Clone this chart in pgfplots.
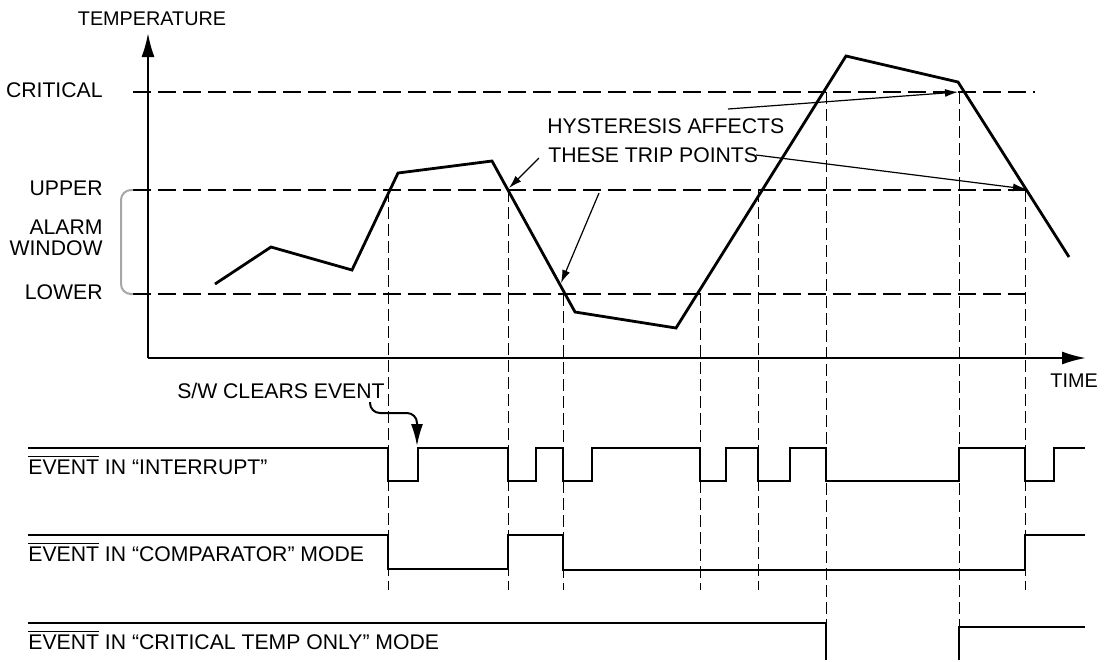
\documentclass[border=0pt]{standalone}
\usepackage{pgfplots}
\pgfplotsset{compat=1.18}
\usepackage{fontspec}
\setmainfont{Liberation Sans}
\usetikzlibrary{arrows.meta}
\newcommand{\ev}{$\overline{\mbox{EVENT}}$}
\newcommand{\bigf}{\fontsize{10.6}{12}\selectfont}
\begin{document}
\begin{tikzpicture}
\begin{axis}[
  width=553pt, height=330pt, scale only axis,
  xmin=0, xmax=1106, ymin=0, ymax=660, y dir=reverse,
  hide axis, clip=false,
  every axis plot/.append style={black},
  font=\fontsize{9.9}{11}\selectfont,
]
% frame for bounding box
\addplot[draw=none] coordinates {(0,0) (1106,660)};
% threshold lines
\addplot[line width=1pt, dash pattern=on 9pt off 3.5pt] coordinates {(133,92) (1035,92)};
\addplot[line width=1pt, dash pattern=on 9pt off 3.5pt] coordinates {(133,190) (1030,190)};
\addplot[line width=1pt, dash pattern=on 9pt off 3.5pt] coordinates {(133,294) (1030,294)};
% alarm window bracket
\addplot[line width=1pt, gray!70, rounded corners=5pt] coordinates {(133,190) (121,190) (121,294) (133,294)};
% vertical event lines
\addplot[line width=0.5pt, dash pattern=on 6pt off 2.5pt] coordinates {(388,190) (388,590)};
\addplot[line width=0.5pt, dash pattern=on 6pt off 2.5pt] coordinates {(508,190) (508,590)};
\addplot[line width=0.5pt, dash pattern=on 6pt off 2.5pt] coordinates {(563,294) (563,590)};
\addplot[line width=0.5pt, dash pattern=on 6pt off 2.5pt] coordinates {(700,294) (700,590)};
\addplot[line width=0.5pt, dash pattern=on 6pt off 2.5pt] coordinates {(758,190) (758,590)};
\addplot[line width=0.5pt, dash pattern=on 6pt off 2.5pt] coordinates {(826,92) (826,660)};
\addplot[line width=0.5pt, dash pattern=on 6pt off 2.5pt] coordinates {(959,92) (959,660)};
\addplot[line width=0.5pt, dash pattern=on 6pt off 2.5pt] coordinates {(1025,190) (1025,590)};
% axes
\addplot[line width=1.1pt, -{Latex[length=12pt,width=6.5pt]}] coordinates {(148,358) (148,33)};
\addplot[line width=1.1pt, -{Latex[length=12pt,width=6.5pt]}] coordinates {(148,358) (1086,358)};
% temperature curve
\addplot[line width=1.4pt, line join=miter] coordinates {
 (215,284) (271,247) (352,270) (398,173) (492,161) (575,312) (676,328) (846,56) (958,82) (1069,257)};
% hysteresis arrows
\addplot[line width=0.6pt, -{Latex[length=6.5pt,width=4pt]}] coordinates {(539,158) (509,188)};
\addplot[line width=0.6pt, -{Latex[length=6.5pt,width=4pt]}] coordinates {(599,193) (561,283)};
\addplot[line width=0.6pt, -{Latex[length=6.5pt,width=4pt]}] coordinates {(728,109) (958,92)};
\addplot[line width=0.6pt, -{Latex[length=6.5pt,width=4pt]}] coordinates {(756,155) (1026,189)};
% S/W clears event arrow
\addplot[line width=1pt, rounded corners=5pt, -{Latex[length=11pt,width=6pt]}] coordinates {(370,402) (370,413) (417,413) (417,446)};
% signals
\addplot[line width=1.1pt] coordinates {
 (28,448) (388,448) (388,481) (418,481) (418,448) (508,448) (508,481) (536,481) (536,448)
 (563,448) (563,481) (592,481) (592,448) (700,448) (700,481) (726,481) (726,448)
 (758,448) (758,481) (790,481) (790,448) (826,448) (826,481) (959,481) (959,448)
 (1025,448) (1025,481) (1054,481) (1054,448) (1085,448)};
\addplot[line width=1.1pt] coordinates {
 (28,535) (388,535) (388,569) (508,569) (508,535) (563,535) (563,570) (1025,570) (1025,535) (1085,535)};
\addplot[line width=1.1pt] coordinates {(28,623) (826,623) (826,660)};
\addplot[line width=1.1pt] coordinates {(959,660) (959,627) (1085,627)};
% texts
\node[anchor=base] at (axis cs:152,25) {TEMPERATURE};
\node[anchor=base east, inner sep=0pt] at (axis cs:103,97) {\bigf CRITICAL};
\node[anchor=base east, inner sep=0pt] at (axis cs:103,195) {\bigf UPPER};
\node[anchor=base east, inner sep=0pt] at (axis cs:103,234) {\bigf ALARM};
\node[anchor=base east, inner sep=0pt] at (axis cs:103,255) {\bigf WINDOW};
\node[anchor=base east, inner sep=0pt] at (axis cs:103,299) {\bigf LOWER};
\node[anchor=base west, inner sep=0pt] at (axis cs:1050,387) {TIME};
\node[anchor=base west, inner sep=0pt] at (axis cs:547,133) {\bigf HYSTERESIS AFFECTS};
\node[anchor=base west, inner sep=0pt] at (axis cs:548,162) {\bigf THESE TRIP POINTS};
\node[anchor=base east, inner sep=0pt] at (axis cs:385,398) {\bigf S/W CLEARS EVENT};
\node[anchor=base west, inner sep=0pt] at (axis cs:28,474) {\bigf\ev{} IN “INTERRUPT”};
\node[anchor=base west, inner sep=0pt] at (axis cs:28,561) {\bigf\ev{} IN “COMPARATOR” MODE};
\node[anchor=base west, inner sep=0pt] at (axis cs:28,649) {\bigf\ev{} IN “CRITICAL TEMP ONLY” MODE};
\end{axis}
\end{tikzpicture}
\end{document}
